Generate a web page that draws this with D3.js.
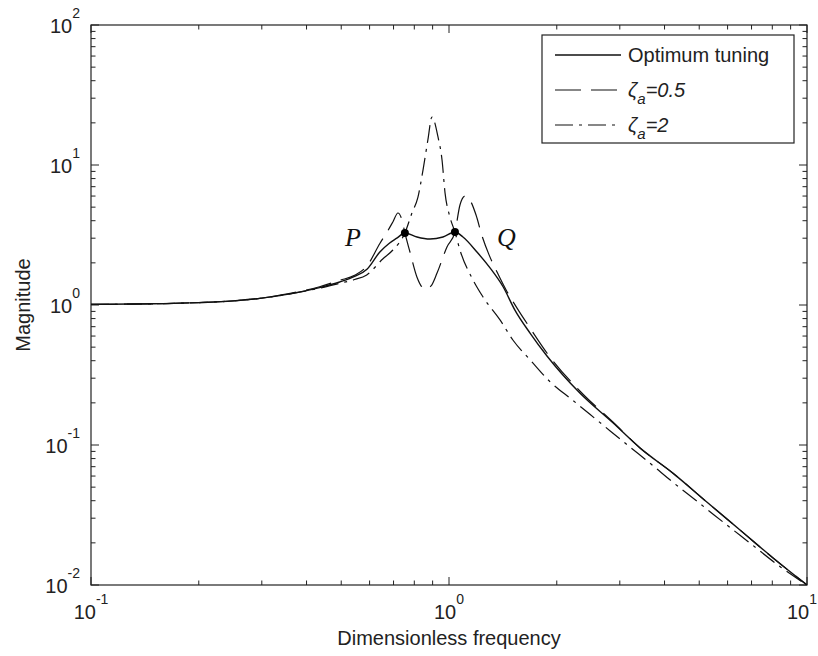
<!DOCTYPE html>
<html>
<head>
<meta charset="utf-8">
<script src="https://cdn.jsdelivr.net/npm/d3@7"></script>
<style>
  html, body { margin: 0; padding: 0; background: #fff; }
  svg { display: block; font-family: Arial, "Liberation Sans", sans-serif; }
</style>
</head>
<body>
<svg id="j-svg" width="818" height="656" viewBox="0 0 818 656"></svg>
<script>
'use strict';

/* global d3 */

// [dimensionless frequency, magnitude]
var optimum = [
  [0.1, 1.01], [0.15, 1.02], [0.2, 1.04], [0.25, 1.07], [0.3, 1.12], [0.36, 1.2],
  [0.435, 1.33], [0.495, 1.46], [0.545, 1.6], [0.59, 1.8], [0.641, 2.39], [0.68, 2.75],
  [0.715, 3.0], [0.753, 3.27], [0.814, 3.06], [0.885, 2.96], [0.962, 3.06], [1.039, 3.32],
  [1.094, 3.06], [1.197, 2.39], [1.302, 1.84], [1.416, 1.35], [1.528, 0.92], [1.684, 0.63],
  [1.878, 0.432], [2.32, 0.235], [2.87, 0.144], [3.42, 0.095], [4.22, 0.063], [5.26, 0.039],
  [6.5, 0.0247], [8.04, 0.0156], [10, 0.01]
];

var zeta05 = [
  [0.1, 1.01], [0.15, 1.02], [0.2, 1.04], [0.25, 1.07], [0.3, 1.12], [0.36, 1.21],
  [0.435, 1.35], [0.495, 1.5], [0.545, 1.63], [0.59, 1.9], [0.641, 2.75], [0.675, 3.4],
  [0.697, 3.92], [0.72, 4.54], [0.739, 4.05], [0.753, 3.27], [0.778, 2.39], [0.814, 1.58],
  [0.857, 1.3], [0.891, 1.37], [0.926, 1.69], [0.987, 2.6], [1.039, 3.32], [1.073, 5.18],
  [1.109, 6.0], [1.145, 5.6], [1.19, 4.39], [1.237, 3.11], [1.294, 2.28], [1.362, 1.72],
  [1.444, 1.28], [1.549, 0.95], [1.684, 0.685], [1.878, 0.454], [2.32, 0.243], [2.87, 0.146],
  [3.42, 0.095], [4.22, 0.063], [5.26, 0.039], [6.5, 0.0247], [8.04, 0.0156], [10, 0.01]
];

var zeta2 = [
  [0.1, 1.01], [0.15, 1.02], [0.2, 1.04], [0.25, 1.07], [0.3, 1.12], [0.36, 1.2],
  [0.435, 1.32], [0.495, 1.43], [0.545, 1.52], [0.589, 1.64], [0.653, 2.13], [0.697, 2.47],
  [0.753, 3.27], [0.788, 4.54], [0.819, 5.9], [0.846, 9.2], [0.873, 15.1], [0.896, 22],
  [0.932, 15.8], [0.956, 10.9], [0.975, 6.3], [1.006, 4.25], [1.039, 3.32], [1.073, 2.47],
  [1.167, 1.51], [1.245, 1.14], [1.39, 0.78], [1.51, 0.56], [1.686, 0.405], [1.918, 0.282],
  [2.21, 0.21], [2.48, 0.165], [2.82, 0.126], [3.21, 0.0963], [3.66, 0.0734], [4.24, 0.0537],
  [4.82, 0.0415], [5.49, 0.0318], [6.97, 0.0197], [8.45, 0.0134], [10, 0.01]
];

var fixedPoints = [
  { name: 'P', f: 0.753, m: 3.27 },
  { name: 'Q', f: 1.039, m: 3.32 }
];

var xTickExps = [-1, 0, 1];
var yTickExps = [-2, -1, 0, 1, 2];

var legendLabels = ['Optimum tuning', '0.5', '2'];

var svg = d3.select('#j-svg');
var m = { left: 91, right: 807, top: 25, bottom: 585 };

var x = d3.scaleLog().domain([0.1, 10]).range([m.left, m.right]);
var y = d3.scaleLog().domain([0.01, 100]).range([m.bottom, m.top]);

svg.append('defs').append('clipPath').attr('id', 'plot-clip')
  .append('rect').attr('x', m.left).attr('y', m.top - 2)
  .attr('width', m.right - m.left).attr('height', m.bottom - m.top + 2);

// minor + major ticks, inside, all four sides
function logTicks(lo, hi) {
  var out = [];
  for (var e = lo; e < hi; e++) {
    for (var k = 1; k < 10; k++) out.push({ v: k * Math.pow(10, e), major: k === 1 });
  }
  out.push({ v: Math.pow(10, hi), major: true });
  return out;
}

var ticks = svg.append('g').attr('stroke', '#222').attr('stroke-width', 1);
logTicks(-1, 1).forEach(function (t) {
  var len = t.major ? 8 : 4.5;
  var px = x(t.v);
  ticks.append('line').attr('x1', px).attr('x2', px).attr('y1', m.bottom).attr('y2', m.bottom - len);
  ticks.append('line').attr('x1', px).attr('x2', px).attr('y1', m.top).attr('y2', m.top + len);
});
logTicks(-2, 2).forEach(function (t) {
  var len = t.major ? 8 : 4.5;
  var py = y(t.v);
  ticks.append('line').attr('x1', m.left).attr('x2', m.left + len).attr('y1', py).attr('y2', py);
  ticks.append('line').attr('x1', m.right).attr('x2', m.right - len).attr('y1', py).attr('y2', py);
});

svg.append('rect')
  .attr('x', m.left).attr('y', m.top).attr('width', m.right - m.left).attr('height', m.bottom - m.top)
  .attr('fill', 'none').attr('stroke', '#222').attr('stroke-width', 1.2);

// tick labels 10^n (last one pulled in so it stays on the page)
var xl = svg.append('g').attr('fill', '#222').attr('font-size', 20);
xTickExps.forEach(function (e, i) {
  var last = i === xTickExps.length - 1;
  var t = xl.append('text')
    .attr('x', last ? 817 : x(Math.pow(10, e)))
    .attr('y', m.bottom + 34)
    .attr('text-anchor', last ? 'end' : 'middle');
  t.append('tspan').text('10');
  t.append('tspan').attr('dy', -15).attr('font-size', 14).text(e);
});
var yl = svg.append('g').attr('fill', '#222').attr('font-size', 20);
yTickExps.forEach(function (e) {
  var t = yl.append('text').attr('x', 80).attr('y', y(Math.pow(10, e)) + 8).attr('text-anchor', 'end');
  t.append('tspan').text('10');
  t.append('tspan').attr('dy', -15).attr('font-size', 14).text(e);
});

svg.append('text').attr('x', 449).attr('y', 645).attr('text-anchor', 'middle')
  .attr('font-size', 20).attr('fill', '#222').text('Dimensionless frequency');
svg.append('text').attr('transform', 'translate(30,305) rotate(-90)').attr('text-anchor', 'middle')
  .attr('font-size', 20).attr('fill', '#222').text('Magnitude');

// curves
var line = d3.line()
  .x(function (d) { return x(d[0]); })
  .y(function (d) { return y(d[1]); })
  .curve(d3.curveMonotoneX);

var series = [
  { data: optimum, dash: null, width: 1.4 },
  { data: zeta05, dash: '26,10', width: 1.2 },
  { data: zeta2, dash: '18,6,3,6', width: 1.2 }
];

var g = svg.append('g').attr('clip-path', 'url(#plot-clip)');
g.selectAll('path').data(series).enter().append('path')
  .attr('d', function (d) { return line(d.data); })
  .attr('fill', 'none')
  .attr('stroke', '#111')
  .attr('stroke-width', function (d) { return d.width; })
  .attr('stroke-dasharray', function (d) { return d.dash; });

g.selectAll('circle').data(fixedPoints).enter().append('circle')
  .attr('cx', function (d) { return x(d.f); })
  .attr('cy', function (d) { return y(d.m); })
  .attr('r', 4).attr('fill', '#000');

svg.selectAll('.pq').data(fixedPoints).enter().append('text')
  .attr('class', 'pq')
  .attr('x', function (d) { return d.name === 'P' ? x(d.f) - 60 : x(d.f) + 42; })
  .attr('y', 246)
  .attr('font-family', '"Liberation Serif", "Times New Roman", serif')
  .attr('font-style', 'italic').attr('font-size', 26).attr('fill', '#111')
  .text(function (d) { return d.name; });

// legend
var lg = svg.append('g');
lg.append('rect').attr('x', 542).attr('y', 35).attr('width', 252).attr('height', 108)
  .attr('fill', '#fff').attr('stroke', '#222').attr('stroke-width', 1.2);

series.forEach(function (s, i) {
  var ly = 55 + i * 35;
  lg.append('line').attr('x1', 555).attr('x2', 621).attr('y1', ly).attr('y2', ly)
    .attr('stroke', '#111').attr('stroke-width', s.width)
    .attr('stroke-dasharray', s.dash);
  var t = lg.append('text').attr('x', 628).attr('y', ly + 7).attr('font-size', 20).attr('fill', '#222');
  if (i === 0) {
    t.text(legendLabels[i]);
  } else {
    t.attr('font-style', 'italic');
    t.append('tspan').text('\u03B6');
    t.append('tspan').attr('dy', 7).attr('font-size', 15).text('a');
    t.append('tspan').attr('dy', -7).text('=' + legendLabels[i]);
  }
});
</script>
</body>
</html>
